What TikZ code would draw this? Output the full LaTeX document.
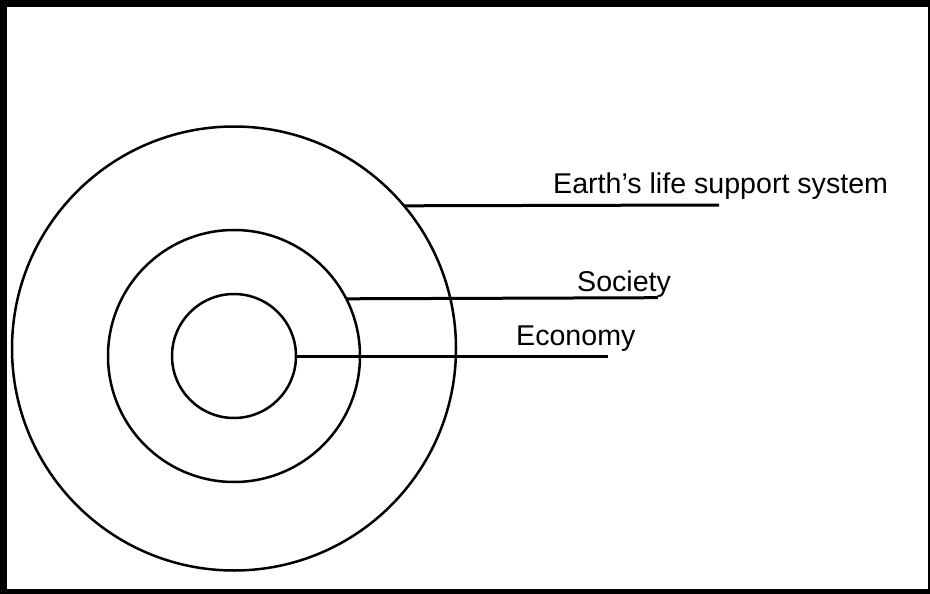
\documentclass[tikz,border=0pt]{standalone}
\usepackage{fontspec}
\setmainfont{Liberation Sans}
\usepackage{tikz}
\tikzset{
  ring/.style={circle,draw,line width=2.5pt,inner sep=0pt,outer sep=0pt},
  lead/.style={line width=3pt},
  lbl/.style={anchor=base west,inner sep=0pt,font=\fontsize{28.6}{34}\selectfont}
}

\begin{document}
\begin{tikzpicture}[x=1pt,y=-1pt]
\fill (0,0) rectangle (930,594);
\fill[white] (7,7) rectangle (927.5,589);
\node[ring,minimum size=444pt] (outer) at (234,348.5) {};
\foreach \n/\d in {middle/252,inner/124}{\node[ring,minimum size=\d pt] (\n) at (234,356) {};}
\coordinate (eend) at (719,205);
\coordinate (send) at (658,297.7);
\coordinate (cend) at (608,356);
\draw[lead] (outer.40.27) -- (eend);
\draw[lead] (middle.27.56) -- (send);
\draw[lead] (inner.east) -- (cend);
\node[lbl] (earth) at (553,193.3) {Earth's life support system};
\node[lbl] (society) at (577,291.7) {Society};
\node[lbl] (economy) at (516,345) {Economy};
\end{tikzpicture}
\end{document}
